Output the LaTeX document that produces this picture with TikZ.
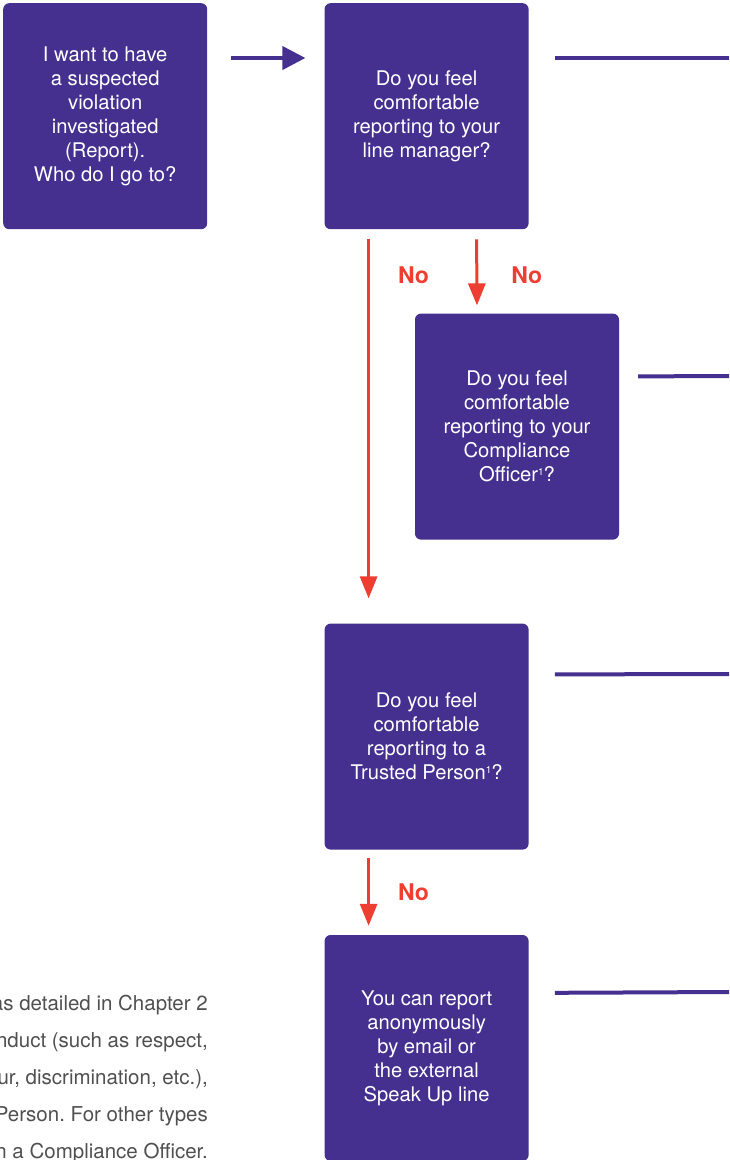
\documentclass[tikz,border=0pt]{standalone}
\usepackage{fontspec}
\setmainfont{TeX Gyre Heros}
\usetikzlibrary{positioning,arrows.meta}
\definecolor{boxpurple}{RGB}{69,48,143}
\definecolor{nored}{RGB}{238,62,49}
\definecolor{notegray}{RGB}{80,80,80}
\newcommand{\fnmark}{\raisebox{6pt}{\fontsize{10}{10}\selectfont 1}}
\frenchspacing

\begin{document}
\begin{tikzpicture}[
          x=1pt, y=-1pt,
          box/.style={fill=boxpurple, rounded corners=6pt,
                      minimum width=204pt, minimum height=226pt,
                      inner sep=0pt, align=center, text=white,
                      font=\fontsize{20.2}{24}\selectfont},
          yesline/.style={draw=boxpurple, line width=4pt},
          noarrow/.style={draw=nored, line width=3pt,
                      -{Triangle[length=22pt,width=17pt]}},
          nolabel/.style={text=nored, inner sep=0pt,
                      font=\fontsize{23}{23}\selectfont\bfseries}
        ]
        \useasboundingbox (0,0) rectangle (729,1160);
        \clip (0,0) rectangle (729,1160);

        \node[box, anchor=north west] (start) at (3,3)
              {I want to have\\a suspected\\violation\\investigated\\(Report).\\Who do I go to?};
        \node[box, right=117pt of start] (manager)
              {Do you feel\\comfortable\\reporting to your\\line manager?};
        \node[box, below right=84pt and -114pt of manager] (compliance)
              {Do you feel\\comfortable\\reporting to your\\Compliance\\Officer\fnmark?};
        \node[box, below=394pt of manager] (trusted)
              {Do you feel\\comfortable\\reporting to a\\Trusted Person\fnmark?};
        \node[box, below=85pt of trusted] (anonymous)
              {You can report\\anonymously\\by email or\\the external\\Speak Up line};

        % footnote text, cut by the left edge
        \node[anchor=north east, inner sep=0pt, align=right, text=notegray,
              font=\fontsize{20.5}{37}\selectfont] (note) at (208,995)
              {as detailed in Chapter 2\\nduct (such as respect,\\ur, discrimination, etc.),\\Person. For other types\\n a Compliance Officer.};

        % start arrow
        \draw[yesline, -{Triangle[length=23pt,width=23pt]}]
          ([xshift=24pt, yshift=-55pt]start.north east) --
          ([xshift=-19pt, yshift=-55pt]manager.north west);

        % yes lines to the right
        \coordinate (manager-exit)    at (729,58);
        \coordinate (compliance-exit) at (729,376);
        \coordinate (trusted-exit)    at (729,674);
        \coordinate (anonymous-exit)  at (729,992);
        \draw[yesline] ([xshift=26pt, yshift=-55pt]manager.north east) -- (manager-exit);
        \draw[yesline] ([xshift=19pt, yshift=-63pt]compliance.north east) -- (compliance-exit);
        \draw[yesline] ([xshift=26pt, yshift=-51pt]trusted.north east) -- (trusted-exit);
        \draw[yesline] ([xshift=26pt, yshift=-58pt]anonymous.north east) -- (anonymous-exit);

        % no arrows
        \draw[noarrow] ([xshift=-58pt, yshift=-10pt]manager.south) --
          node[nolabel, pos=0.1, anchor=west, xshift=28pt] (no-trusted) {No}
          ([xshift=-58pt, yshift=25pt]trusted.north);
        \draw[noarrow] ([xshift=50pt, yshift=-10pt]manager.south) --
          node[nolabel, pos=0.55, anchor=west, xshift=33pt] (no-compliance) {No}
          ([xshift=-40pt, yshift=8pt]compliance.north);
        \draw[noarrow] ([xshift=-58pt, yshift=-8pt]trusted.south) --
          node[nolabel, pos=0.51, anchor=west, xshift=28pt] (no-anonymous) {No}
          ([xshift=-58pt, yshift=9pt]anonymous.north);
      \end{tikzpicture}
\end{document}
